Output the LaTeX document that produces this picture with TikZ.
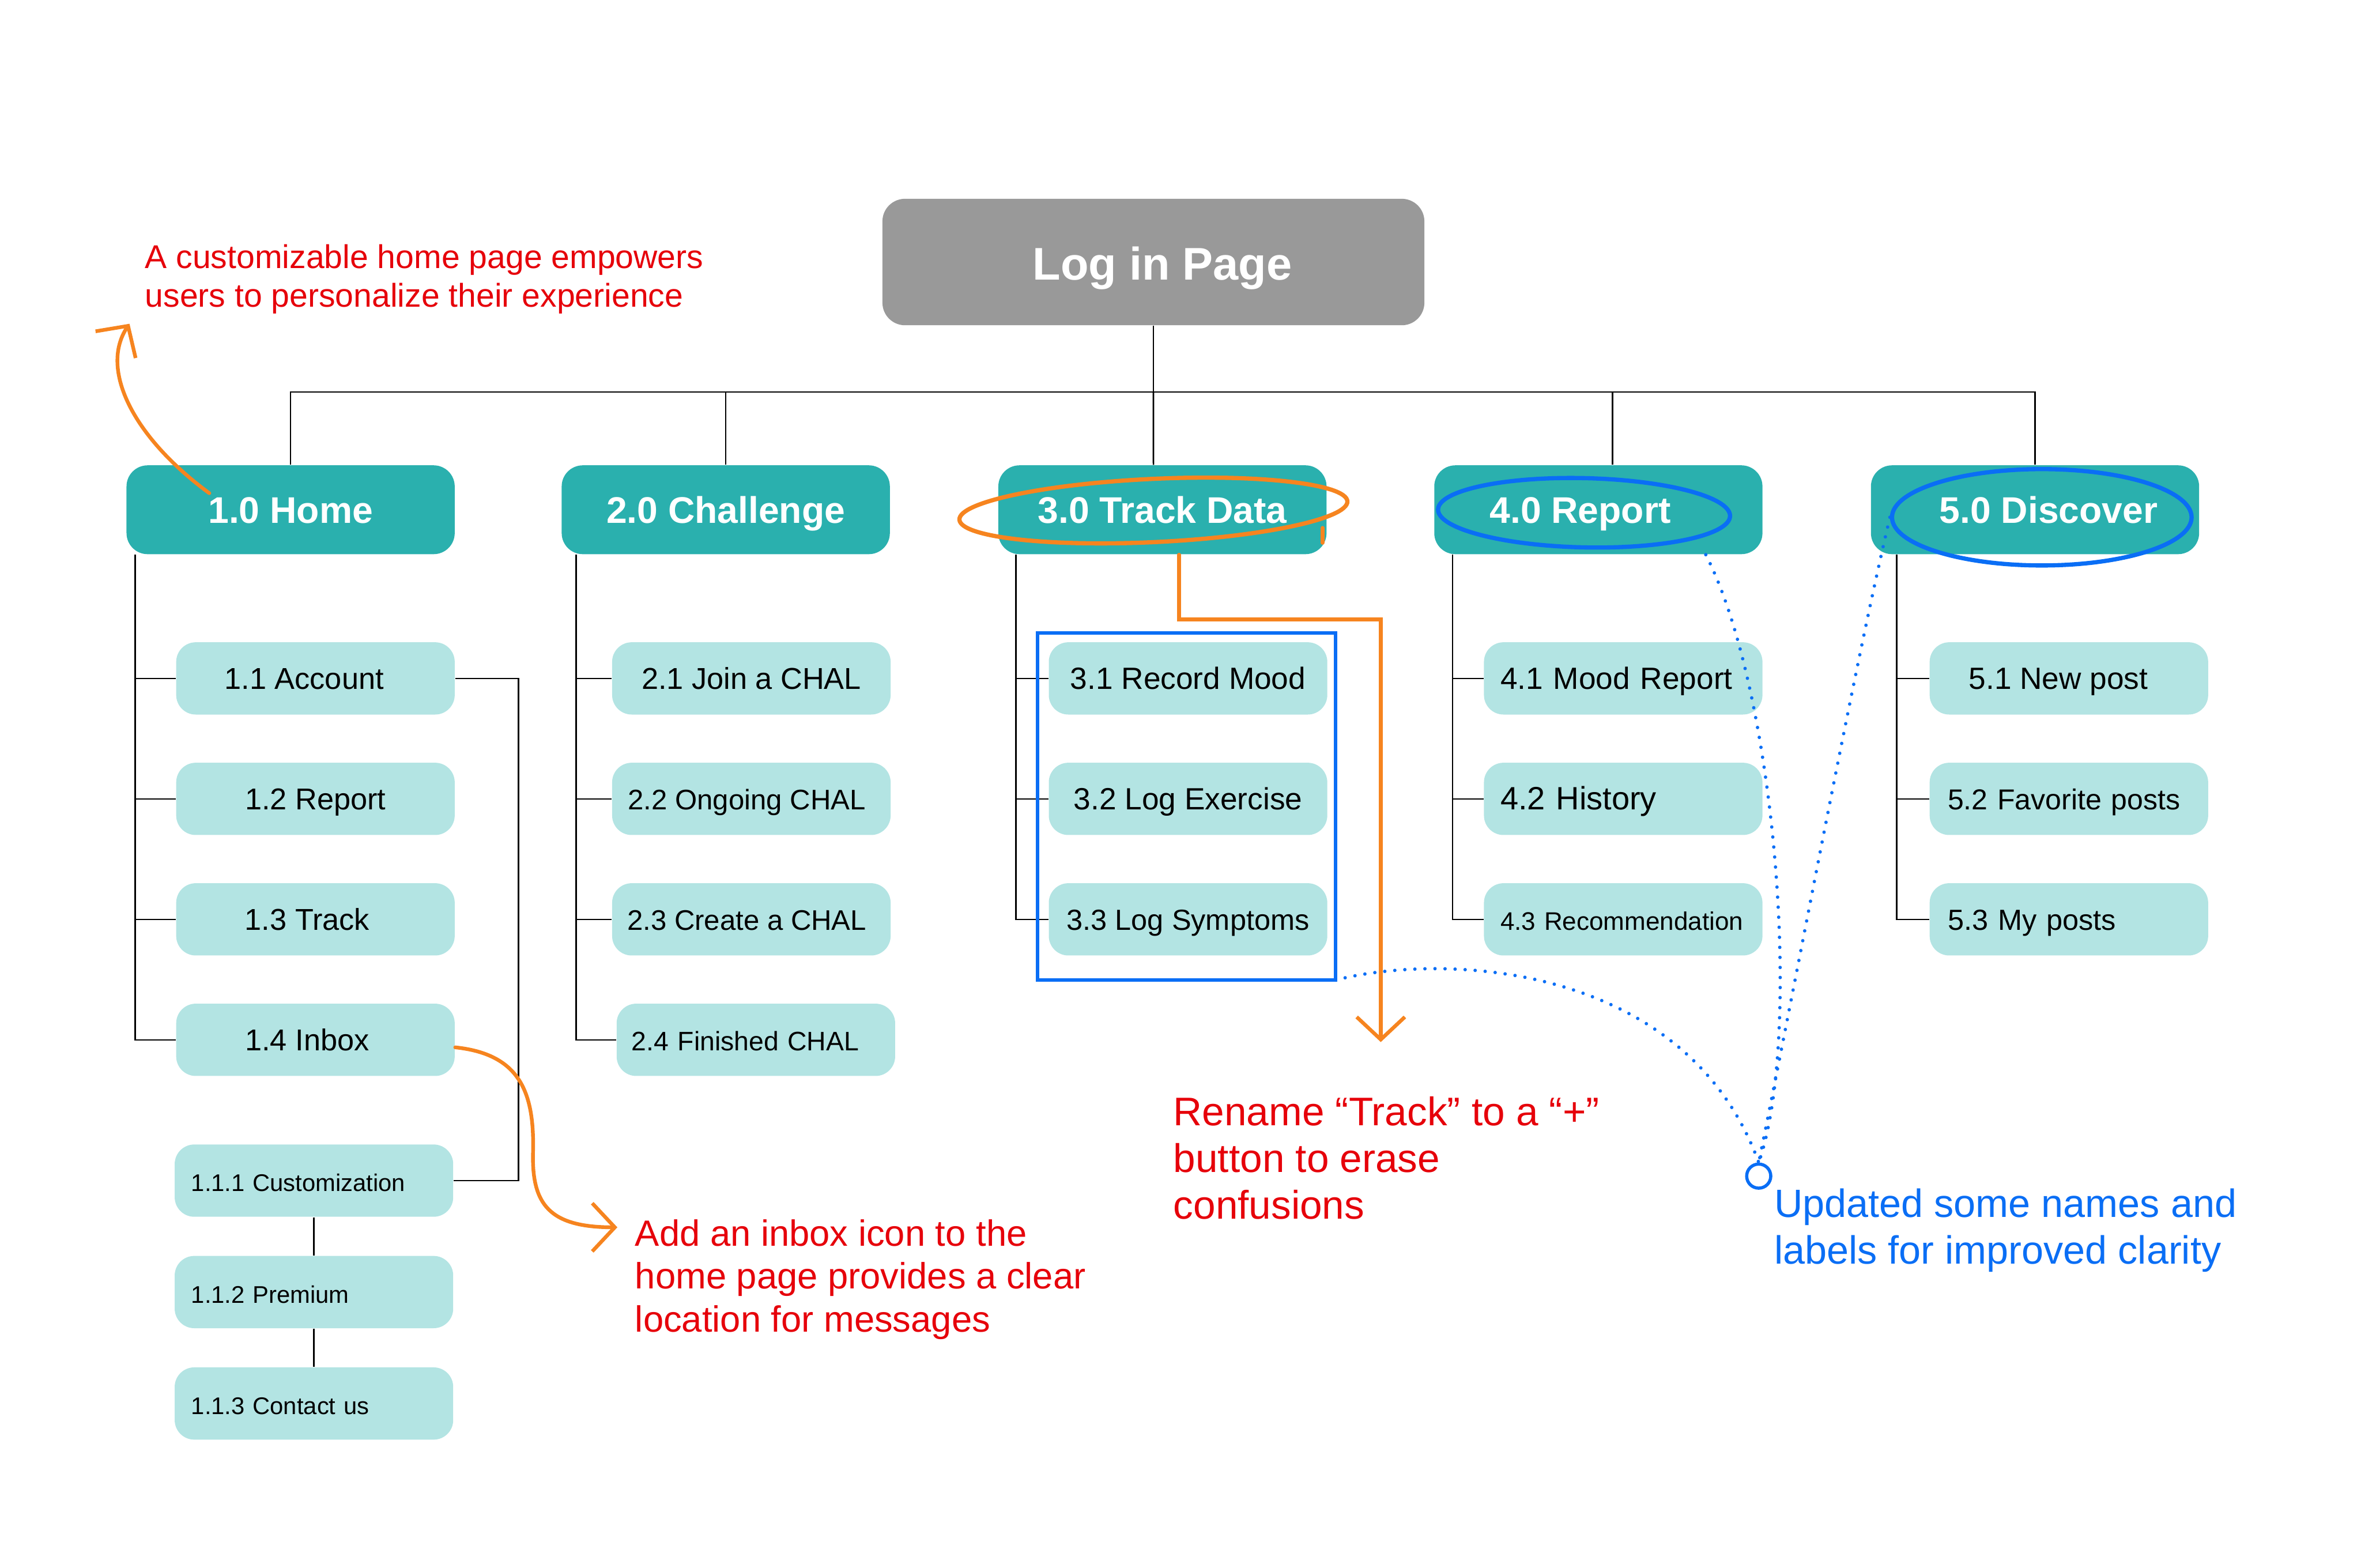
\documentclass[tikz,border=0pt]{standalone}
\usepackage{fontspec}
\setmainfont{Liberation Sans}
\usetikzlibrary{shapes.geometric,arrows.meta}
\definecolor{logingrey}{RGB}{153,153,153}
\definecolor{mainteal}{RGB}{42,176,174}
\definecolor{subteal}{RGB}{179,228,227}
\definecolor{annred}{RGB}{230,0,10}
\definecolor{annorange}{RGB}{246,132,31}
\definecolor{annblue}{RGB}{10,110,245}

\begin{document}
\begin{tikzpicture}[x=0.02cm,y=-0.02cm]
	\tikzset{rootbox/.style={fill=logingrey, rounded corners=0.3cm, minimum width=7.2cm, minimum height=1.68cm, inner sep=0pt, text height=0.48cm, text depth=0pt, text=white, font=\fontsize{17.3}{20}\selectfont\bfseries},
		mainbox/.style={fill=mainteal, rounded corners=0.28cm, minimum width=4.36cm, minimum height=1.18cm, inner sep=0pt, text height=0.35cm, text depth=0pt, text=white, font=\fontsize{14}{17}\selectfont\bfseries},
		subbox/.style={fill=subteal, rounded corners=0.26cm, minimum width=3.7cm, minimum height=0.96cm, inner sep=0pt, text height=0.29cm, text depth=0pt, font=\fontsize{11.4}{14}\selectfont},
		lsub/.style={subbox, inner xsep=0.22cm, text width=3.26cm, align=left},
		link/.style={draw=black, line width=0.55pt},
		orangearrow/.style={draw=annorange, line width=1.4pt, line cap=round, -{Straight Barb[length=0.3cm,width=0.64cm]}},
		ring/.style={ellipse, draw=#1, line width=1.6pt, inner sep=0pt},
		dotline/.style={draw=annblue, line width=1.3pt, line cap=round, dash pattern=on 0pt off 3.8pt},
		note/.style={text=#1, align=left, anchor=north west, inner sep=0pt}}
	\useasboundingbox (0,0) rectangle (1568,1041);
	\node[rootbox] (login) at (766,174) {\hspace*{0.24cm}Log in Page};
	\node[mainbox] (home) at (193,338.5) {1.0 Home};
	\node[mainbox] (chal) at (482,338.5) {2.0 Challenge};
	\node[mainbox] (track) at (772,338.5) {3.0 Track Data};
	\node[mainbox] (report) at (1061.5,338.5) {4.0 Report\hspace*{0.48cm}};
	\node[mainbox] (disc) at (1351.5,338.5) {\hspace*{0.36cm}5.0 Discover};
	
	\node[subbox] (acc) at (209.5,450.5) {1.1 Account\hspace*{0.3cm}};
	\node[subbox] (rep) at (209.5,530.5) {1.2 Report};
	\node[subbox] (trk) at (209.5,610.5) {1.3 Track\hspace*{0.22cm}};
	\node[subbox] (inbox) at (209.5,690.5) {1.4 Inbox\hspace*{0.22cm}};
	\node[lsub, font=\fontsize{9.1}{11}\selectfont] (cust) at (208.5,784) {1.1.1 Customization};
	\node[lsub, font=\fontsize{9.1}{11}\selectfont] (prem) at (208.5,858) {1.1.2 Premium};
	\node[lsub, font=\fontsize{9.1}{11}\selectfont] (contact) at (208.5,932) {1.1.3 Contact us};
	
	\node[subbox] (join) at (499,450.5) {2.1 Join a CHAL};
	\node[subbox, font=\fontsize{10.7}{13}\selectfont] (ongo) at (499,530.5) {2.2 Ongoing CHAL\hspace*{0.12cm}};
	\node[subbox, font=\fontsize{10.7}{13}\selectfont] (create) at (499,610.5) {2.3 Create a CHAL\hspace*{0.12cm}};
	\node[lsub, inner xsep=0.2cm, text width=3.3cm, font=\fontsize{10.1}{12}\selectfont] (fin) at (502,690.5) {2.4 Finished CHAL};
	
	\node[subbox, font=\fontsize{11.6}{14}\selectfont] (mood) at (789,450.5) {3.1 Record Mood};
	\node[subbox, font=\fontsize{11.6}{14}\selectfont] (exer) at (789,530.5) {3.2 Log Exercise};
	\node[subbox, font=\fontsize{11}{14}\selectfont] (symp) at (789,610.5) {3.3 Log Symptoms};
	
	\node[lsub, font=\fontsize{11.6}{14}\selectfont] (mrep) at (1078,450.5) {4.1 Mood Report};
	\node[lsub, font=\fontsize{12.2}{14}\selectfont] (hist) at (1078,530.5) {4.2 History};
	\node[lsub, font=\fontsize{9.6}{12}\selectfont] (recom) at (1078,610.5) {4.3 Recommendation};
	
	\node[subbox, font=\fontsize{11.6}{14}\selectfont] (newp) at (1374,450.5) {5.1 New post\hspace*{0.28cm}};
	\node[lsub, inner xsep=0.24cm, text width=3.22cm, font=\fontsize{10.9}{13}\selectfont] (fav) at (1374,530.5) {5.2 Favorite posts};
	\node[lsub, inner xsep=0.24cm, text width=3.22cm, font=\fontsize{11}{13}\selectfont] (myp) at (1374,610.5) {5.3 My posts};
	
	\coordinate (bus) at ([yshift=-0.88cm]login.south);
	\draw[link] (login) -- (bus);
	\draw[link] (home.north) |- (bus);
	\draw[link] (chal.north) |- (bus);
	\draw[link] ([xshift=-0.12cm]track.north) -- (bus);
	\draw[link] ([xshift=0.19cm]report.north) |- (bus);
	\draw[link] (disc.north) |- (bus);
	
	\coordinate (sp1) at ([xshift=0.12cm]home.south west);
	\coordinate (sp2) at ([xshift=0.2cm]chal.south west);
	\coordinate (sp3) at ([xshift=0.24cm]track.south west);
	\coordinate (sp4) at ([xshift=0.25cm]report.south west);
	\coordinate (sp5) at ([xshift=0.35cm]disc.south west);
	\draw[link] (sp1) |- (inbox.west);
	\draw[link] (sp1 |- acc.west) -- (acc.west);
	\draw[link] (sp1 |- rep.west) -- (rep.west);
	\draw[link] (sp1 |- trk.west) -- (trk.west);
	\draw[link] (sp2) |- (fin.west);
	\draw[link] (sp2 |- join.west) -- (join.west);
	\draw[link] (sp2 |- ongo.west) -- (ongo.west);
	\draw[link] (sp2 |- create.west) -- (create.west);
	\draw[link] (sp3) |- (symp.west);
	\draw[link] (sp3 |- mood.west) -- (mood.west);
	\draw[link] (sp3 |- exer.west) -- (exer.west);
	\draw[link] (sp4) |- (recom.west);
	\draw[link] (sp4 |- mrep.west) -- (mrep.west);
	\draw[link] (sp4 |- hist.west) -- (hist.west);
	\draw[link] (sp5) |- (myp.west);
	\draw[link] (sp5 |- newp.west) -- (newp.west);
	\draw[link] (sp5 |- fav.west) -- (fav.west);
	\draw[link] (acc.east) -- ++(42,0) |- (cust.east);
	\draw[link] (cust) -- (prem);
	\draw[link] (prem) -- (contact);
	
	\node[note=annred, font=\fontsize{12.45}{14.7}\selectfont] (custnote) at (96,162) {A customizable home page empowers\\users to personalize their experience};
	\node[note=annred, font=\fontsize{13.8}{16.2}\selectfont] (addnote) at (421.5,809.5) {Add an inbox icon to the\\home page provides a clear\\location for messages};
	\node[note=annred, font=\fontsize{15.1}{17.6}\selectfont] (renamenote) at (779,728) {Rename “Track” to a “+”\\button to erase\\confusions};
	\node[note=annblue, font=\fontsize{14.9}{17.7}\selectfont] (updnote) at (1178,789) {Updated some names and\\labels for improved clarity};
	
	\node[ring=annorange, minimum width=5.16cm, minimum height=0.84cm, rotate=2.7] (ring3) at (766,339) {};
	\draw[draw=annorange, line width=1.4pt, line cap=round] ([shift={(-3,12)}]track.east) -- ++(0,10);
	\node[ring=annblue, minimum width=3.88cm, minimum height=0.92cm, rotate=-1.3] (ring4) at (1052,340.5) {};
	\node[ring=annblue, minimum width=3.98cm, minimum height=1.28cm] (ring5) at (1356,343.5) {};
	
	\coordinate (tipA) at (86,215);
	\coordinate (tipB) at (410,815);
	\coordinate (tipC) at (917,692);
	\draw[orangearrow] ([shift={(-54,-11)}]home.center) .. controls (88,290) and (66,245) .. (tipA);
	\draw[orangearrow] ([yshift=-0.1cm]inbox.east) .. controls (345,700) and (355,725) .. (354,765) .. controls (353,800) and (365,815) .. (tipB);
	\draw[orangearrow] ([xshift=0.22cm]track.south) -- ++(0,43) -| (tipC);
	
	\draw[draw=annblue, line width=1.3pt] ([shift={(-7,-6)}]mood.north west) rectangle ([shift={(5,16)}]symp.south east);
	\coordinate (boxcorner) at ([shift={(5,16)}]symp.south east);
	\node[circle, draw=annblue, line width=1.2pt, minimum size=0.32cm, inner sep=0pt] (hub) at (1168,781) {};
	\draw[dotline] ([xshift=-0.76cm]report.south east) .. controls (1180,460) and (1197,690) .. (hub.north);
	\draw[dotline] (ring5.west) .. controls (1230,450) and (1195,640) .. (hub.north);
	\draw[dotline] (boxcorner) .. controls (960,632) and (1120,640) .. (hub.north);
\end{tikzpicture}
\end{document}
